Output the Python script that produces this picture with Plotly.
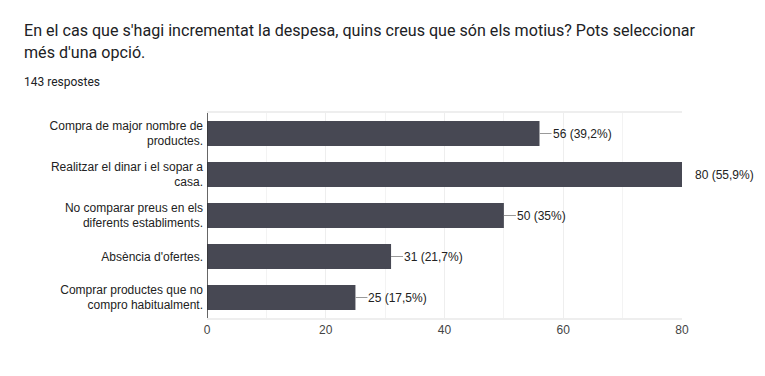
import plotly.graph_objects as go

categories = [
    "Compra de major nombre de<br>productes.",
    "Realitzar el dinar i el sopar a<br>casa.",
    "No comparar preus en els<br>diferents establiments.",
    "Absència d'ofertes.",
    "Comprar productes que no<br>compro habitualment.",
]
counts = [56, 80, 50, 31, 25]
pct_labels = ["39,2%", "55,9%", "35%", "21,7%", "17,5%"]
x_ticks = [0, 20, 40, 60, 80]
title_lines = [
    "En el cas que s'hagi incrementat la despesa, quins creus que són els motius? Pots seleccionar",
    "més d'una opció.",
]
subtitle_text = "143 respostes"

bar_color = "#474853"

# page offset (browser body margin) compensation
OFF = 8
PLOT_LEFT, PLOT_TOP, PLOT_W, PLOT_H = 207, 113, 475, 205


def px_x(px):
    return (px - PLOT_LEFT) / PLOT_W


def px_y(py):
    return 1 + (PLOT_TOP - py) / PLOT_H


fig = go.Figure()
fig.add_trace(go.Bar(
    y=categories, x=counts, orientation="h",
    marker=dict(color=bar_color, line=dict(width=0)),
    width=0.61, hoverinfo="skip",
))

for cat, v, p in zip(categories, counts, pct_labels):
    fig.add_shape(type="line", xref="x", yref="y", xsizemode="pixel",
                  xanchor=v, x0=0, x1=12, y0=cat, y1=cat,
                  line=dict(color="#999999", width=1))
    fig.add_annotation(x=v, y=cat, xref="x", yref="y", text=f"{v} ({p})",
                       showarrow=False, xanchor="left", xshift=11,
                       font=dict(family="Arial", size=12, color="#222222"))

for line, cy in zip(title_lines, [30.5, 53]):
    fig.add_annotation(xref="paper", yref="paper", x=px_x(22), y=px_y(cy),
                       text=line, showarrow=False, xanchor="left", yanchor="middle",
                       font=dict(family="Roboto", size=16.1, color="#202124"))

fig.add_annotation(xref="paper", yref="paper", x=px_x(22), y=px_y(81.5),
                   text=subtitle_text, showarrow=False, xanchor="left", yanchor="middle",
                   font=dict(family="Roboto", size=12, color="#202124"))

fig.update_layout(
    width=765 - OFF, height=376 - OFF,
    margin=dict(l=PLOT_LEFT - OFF, r=765 - PLOT_LEFT - PLOT_W, t=PLOT_TOP - OFF,
                b=376 - PLOT_TOP - PLOT_H, autoexpand=False),
    paper_bgcolor="white", plot_bgcolor="white",
    showlegend=False,
    xaxis=dict(range=[0, 80], tickvals=x_ticks, ticks="", showline=True,
               linecolor="#eeeeee", linewidth=2, mirror=True,
               gridcolor="#eeeeee", gridwidth=1, zeroline=False,
               minor=dict(dtick=10, showgrid=True, gridcolor="#f3f3f3", gridwidth=1),
               tickfont=dict(family="Arial", size=12, color="#444444"), ticklen=0,
               fixedrange=True),
    yaxis=dict(autorange="reversed", ticks="", showline=False, zeroline=False,
               tickfont=dict(family="Arial", size=12, color="#222222"),
               ticklabelstandoff=3, fixedrange=True),
)
fig.add_shape(type="line", xref="x", yref="paper", x0=0, x1=0, y0=0, y1=1,
              line=dict(color="#333333", width=1.5), layer="above")

fig.write_html("out.html")
